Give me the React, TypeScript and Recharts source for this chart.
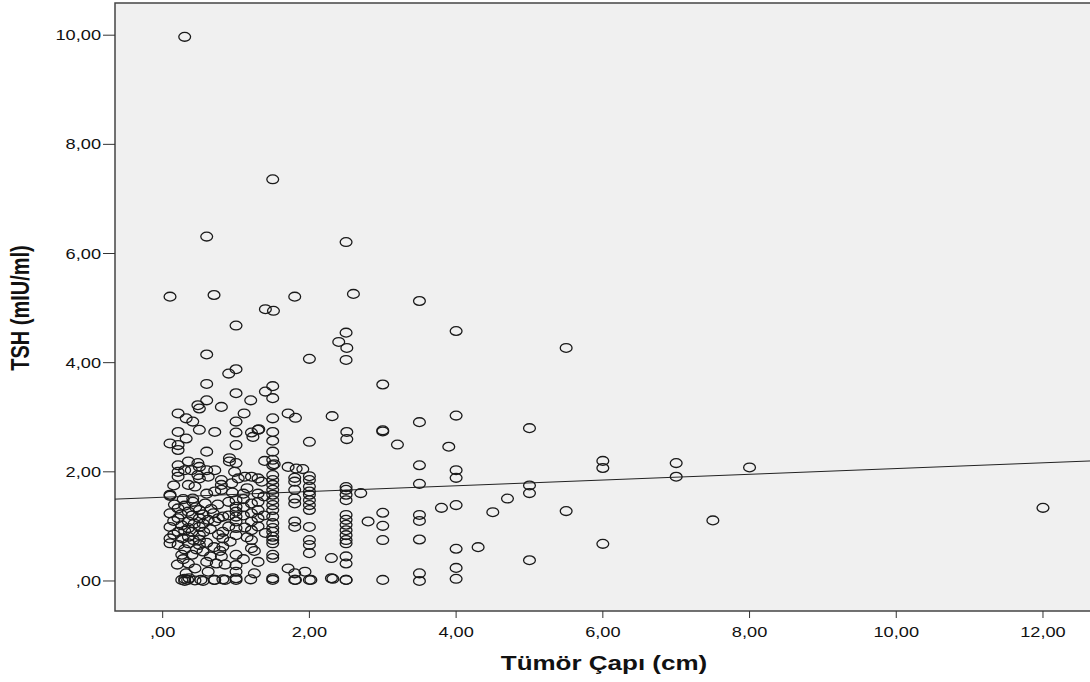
import React from "react";
import { ScatterChart, Scatter, XAxis, YAxis, ReferenceArea, ReferenceLine } from "recharts";

// [tumour diameter (cm), TSH (mIU/ml)]
const sparseHigh: [number, number][] = [
  [0.3, 9.97], [1.5, 7.36], [0.6, 6.31], [2.5, 6.21], [0.1, 5.21], [0.7, 5.24], [1.8, 5.21],
  [1.4, 4.98], [1.51, 4.95], [1.0, 4.68], [2.5, 4.55], [2.4, 4.38], [2.51, 4.27], [0.6, 4.15],
  [2.0, 4.07], [2.5, 4.05], [1.0, 3.88], [0.9, 3.8], [0.6, 3.61], [1.5, 3.57], [1.4, 3.47],
  [1.0, 3.44], [1.2, 3.31], [1.5, 3.35], [0.6, 3.31],
];

const midCluster: [number, number][] = [
  [0.48, 3.22], [0.5, 3.16], [0.8, 3.19], [0.21, 3.07], [0.32, 2.98], [0.41, 2.92], [1.11, 3.07],
  [1.0, 2.92], [0.21, 2.73], [0.5, 2.77], [0.71, 2.73], [1.0, 2.72], [1.21, 2.72], [1.23, 2.64],
  [1.3, 2.77], [0.32, 2.61], [0.1, 2.52], [0.21, 2.49], [0.21, 2.4], [1.0, 2.49], [0.6, 2.37],
  [1.71, 3.07], [1.81, 2.99], [1.5, 2.98], [2.31, 3.02], [1.31, 2.78], [1.5, 2.73], [1.5, 2.57],
  [2.51, 2.73], [2.51, 2.6], [2.0, 2.55], [1.5, 2.37], [1.39, 2.2], [1.52, 2.14], [1.71, 2.09],
  [1.82, 2.06], [1.91, 2.05], [0.21, 2.12], [0.48, 2.16], [0.5, 2.09], [0.71, 2.03], [0.91, 2.25],
  [0.91, 2.19], [1.0, 2.16], [0.35, 2.19], [0.39, 2.03], [0.3, 2.03], [0.21, 2.0], [0.6, 2.03],
  [1.5, 2.22], [1.5, 2.12], [0.98, 2.0],
];

const lowColumns: [number, number][] = [
  [1.5, 1.94], [1.5, 1.85], [1.5, 1.76], [1.5, 1.67], [1.5, 1.58], [1.5, 1.48], [1.5, 1.39],
  [1.5, 1.3], [1.5, 1.18], [1.5, 1.06], [1.5, 0.97], [1.5, 0.9], [1.5, 0.81], [1.5, 0.75],
  [1.5, 0.69], [1.5, 0.48], [1.5, 0.42], [1.5, 0.05], [1.5, 0.02],
  [2.0, 1.92], [2.0, 1.85], [2.0, 1.73], [2.0, 1.64], [2.0, 1.58], [2.0, 1.48], [2.0, 1.39],
  [2.0, 1.3], [2.0, 0.99], [2.0, 0.75], [2.0, 0.66], [2.0, 0.51], [2.0, 0.02],
  [1.8, 1.89], [1.8, 1.82], [1.8, 1.67], [1.8, 1.51], [1.8, 1.42], [1.8, 1.09], [1.8, 0.99],
  [1.8, 0.14], [1.8, 0.02],
  [2.5, 1.72], [2.5, 1.67], [2.5, 1.58], [2.5, 1.48], [2.5, 1.21], [2.5, 1.12], [2.5, 1.03],
  [2.5, 0.93], [2.5, 0.84], [2.5, 0.75], [2.5, 0.69], [2.5, 0.45], [2.5, 0.32], [2.5, 0.02],
  [1.0, 1.48], [1.0, 1.36], [1.0, 1.27], [1.0, 1.18], [1.0, 1.09], [1.0, 0.97], [1.0, 0.84],
  [1.0, 0.48], [1.0, 0.29], [1.0, 0.17], [1.0, 0.05], [1.03, 1.88],
  [1.21, 1.91], [1.21, 1.42], [1.21, 1.24], [1.21, 1.09], [1.21, 0.93], [1.21, 0.75], [1.21, 0.6],
  [0.1, 1.58], [0.1, 1.24], [0.1, 0.99], [0.1, 0.78], [0.1, 0.69],
  [0.21, 1.91], [0.21, 1.33], [0.21, 1.15], [0.21, 0.9], [0.21, 0.66],
  [0.35, 1.76], [0.35, 1.27], [0.35, 1.09], [0.35, 0.97], [0.35, 0.81], [0.35, 0.69], [0.35, 0.32],
  [0.5, 1.88], [0.5, 1.3], [0.5, 1.15], [0.5, 0.99], [0.5, 0.84], [0.5, 0.75], [0.5, 0.66],
  [0.41, 1.51], [0.41, 1.45],
  [1.3, 1.6], [1.3, 1.45], [1.3, 1.3], [1.3, 1.15], [1.3, 1.0],
  [1.1, 1.6], [1.1, 1.5], [1.1, 1.35],
];

const denseCore: [number, number][] = [
  [0.15, 1.1], [0.15, 0.85], [0.16, 1.4], [0.25, 1.22], [0.26, 1.02], [0.27, 0.78], [0.28, 1.5],
  [0.3, 1.38], [0.3, 0.92], [0.4, 1.2], [0.4, 0.9], [0.42, 0.75], [0.43, 1.05], [0.45, 1.35],
  [0.46, 0.58], [0.55, 1.22], [0.55, 1.05], [0.56, 0.9], [0.58, 1.42], [0.6, 0.7], [0.62, 1.12],
  [0.65, 0.95], [0.66, 1.32], [0.75, 1.4], [0.76, 1.15], [0.76, 0.85], [0.78, 0.55], [0.9, 1.45],
  [0.9, 1.2], [0.9, 1.0], [0.92, 0.72], [1.1, 1.2], [1.12, 0.98], [1.15, 0.8], [1.15, 1.7],
  [1.38, 1.55], [1.38, 1.2], [1.4, 0.88], [0.4, 0.48], [0.7, 0.62], [1.1, 0.4], [1.3, 0.35],
  [0.3, 0.58], [0.85, 0.3], [0.15, 1.75], [0.6, 1.6], [0.95, 1.62], [1.25, 0.55],
];

const lowScattered: [number, number][] = [
  [0.62, 1.91], [0.48, 1.94], [0.8, 1.85], [1.12, 1.91], [1.3, 1.88], [1.35, 1.82], [0.44, 1.73],
  [0.8, 1.76], [0.94, 1.79], [0.8, 1.67], [0.71, 1.64], [0.69, 1.24], [0.71, 1.09], [0.82, 1.18],
  [0.82, 0.9], [0.82, 0.78], [0.82, 0.63], [0.26, 0.48], [0.44, 0.23], [0.32, 0.14], [0.3, 0.0],
  [0.55, 0.54], [0.6, 0.35], [0.62, 0.17], [0.55, 0.0], [0.73, 0.32], [0.71, 0.02], [0.85, 0.02],
  [1.25, 0.14], [0.8, 0.45], [0.65, 0.45], [1.71, 0.23], [1.94, 0.17], [2.3, 0.42], [2.3, 0.05],
  [0.2, 0.3], [0.28, 0.4], [0.1, 1.56],
  [0.26, 0.02], [0.34, 0.02], [0.44, 0.01], [0.52, 0.02], [0.7, 0.02], [0.82, 0.03], [1.0, 0.02],
  [1.2, 0.03], [1.81, 0.02], [2.02, 0.02], [2.32, 0.04], [2.5, 0.02], [0.3, 0.04], [0.36, 0.05],
];

const largeTumors: [number, number][] = [
  [2.6, 5.26], [2.7, 1.61], [2.8, 1.09], [3.0, 3.6], [3.0, 2.76], [3.0, 2.74], [3.0, 1.25],
  [3.0, 1.01], [3.0, 0.75], [3.0, 0.02], [3.2, 2.5], [3.5, 5.13], [3.5, 2.91], [3.5, 2.12],
  [3.5, 1.78], [3.5, 1.21], [3.5, 1.1], [3.5, 0.76], [3.5, 0.14], [3.5, 0.0], [3.8, 1.34],
  [3.9, 2.46], [4.0, 4.58], [4.0, 3.03], [4.0, 2.03], [4.0, 1.89], [4.0, 1.39], [4.0, 0.59],
  [4.0, 0.24], [4.0, 0.04], [4.3, 0.62], [4.5, 1.26], [4.7, 1.51], [5.0, 2.8], [5.0, 1.75],
  [5.0, 1.61], [5.0, 0.38], [5.5, 4.27], [5.5, 1.28], [6.0, 2.2], [6.0, 2.07], [6.0, 0.68],
  [7.0, 2.16], [7.0, 1.91], [7.5, 1.11], [8.0, 2.08], [12.0, 1.34],
];

const xTicks = [0, 2, 4, 6, 8, 10, 12];
const yTicks = [0, 2, 4, 6, 8, 10];
const xDomain: [number, number] = [-0.65, 12.75];
const yDomain: [number, number] = [-0.55, 10.59];
const fitIntercept = 1.534;
const fitSlope = 0.0526;

const data = [...sparseHigh, ...midCluster, ...lowColumns, ...denseCore, ...lowScattered, ...largeTumors].map(
  ([x, y]) => ({ x, y })
);

const fmt = (v: number) => (v === 0 ? ",00" : v.toFixed(2).replace(".", ","));
const FONT = "'Liberation Sans', Arial, sans-serif";
const STRETCH = 1.3;

const XTick = (props: any) => {
  const { x, y, payload } = props;
  return (
    <text
      transform={`translate(${x},${y + 17}) scale(${STRETCH},1)`}
      textAnchor="middle"
      fontFamily={FONT}
      fontSize={14}
      fill="#111"
    >
      {fmt(payload.value)}
    </text>
  );
};

const YTick = (props: any) => {
  const { x, y, payload } = props;
  return (
    <text
      transform={`translate(${x},${y + 5}) scale(${STRETCH},1)`}
      textAnchor="end"
      fontFamily={FONT}
      fontSize={14}
      fill="#111"
    >
      {fmt(payload.value)}
    </text>
  );
};

const Marker = (props: any) => {
  const { cx, cy } = props;
  if (cx == null || cy == null) return null;
  return <ellipse cx={cx} cy={cy} rx={5.9} ry={4.4} fill="none" stroke="#1a1a1a" strokeWidth={1.3} />;
};

export default function App() {
  return (
    <div style={{ position: "absolute", left: 0, top: 0, width: 1090, height: 682, overflow: "hidden", background: "#fff" }}>
      <ScatterChart width={1100} height={682} margin={{ top: 3, right: 2, bottom: 0, left: 0 }}>
        <ReferenceArea
          x1={xDomain[0]}
          x2={xDomain[1]}
          y1={yDomain[0]}
          y2={yDomain[1]}
          fill="#f0f0f0"
          fillOpacity={1}
          stroke="#444"
          strokeWidth={1.5}
        />
        <XAxis
          type="number"
          dataKey="x"
          domain={xDomain}
          ticks={xTicks}
          allowDataOverflow
          height={71}
          axisLine={false}
          tickSize={7}
          tickLine={{ stroke: "#333" }}
          tick={<XTick />}
          interval={0}
        />
        <YAxis
          type="number"
          dataKey="y"
          domain={yDomain}
          ticks={yTicks}
          allowDataOverflow
          width={115}
          axisLine={false}
          tickSize={12}
          tickLine={{ stroke: "#333" }}
          tick={<YTick />}
          interval={0}
        />
        <Scatter data={data} shape={<Marker />} isAnimationActive={false} />
        <ReferenceLine
          segment={[
            { x: xDomain[0], y: fitIntercept + fitSlope * xDomain[0] },
            { x: xDomain[1], y: fitIntercept + fitSlope * xDomain[1] },
          ]}
          stroke="#222"
          strokeWidth={1}
        />
      </ScatterChart>
      <svg style={{ position: "absolute", left: 0, top: 0 }} width={1090} height={682} pointerEvents="none">
        <text
          transform={`translate(604,670) scale(${STRETCH},1)`}
          textAnchor="middle"
          fontFamily={FONT}
          fontSize={20}
          fontWeight="bold"
          fill="#111"
        >
          Tümör Çapı (cm)
        </text>
        <text
          transform={`translate(29,308) scale(${STRETCH},1) rotate(-90)`}
          textAnchor="middle"
          fontFamily={FONT}
          fontSize={20}
          fontWeight="bold"
          fill="#111"
        >
          TSH (mIU/ml)
        </text>
      </svg>
    </div>
  );
}
